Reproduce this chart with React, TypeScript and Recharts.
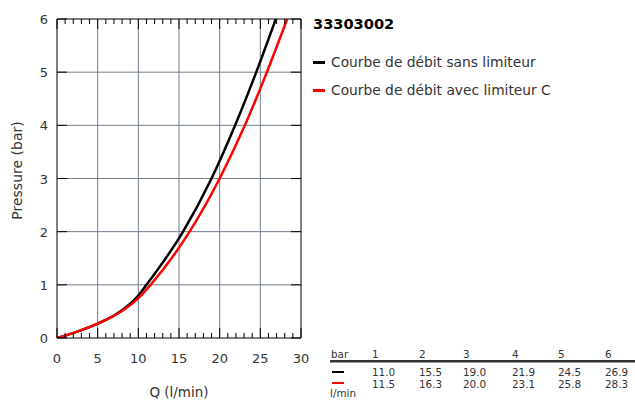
import React from 'react';
import { LineChart, Line, XAxis, YAxis, CartesianGrid } from 'recharts';

// courbes
const blackQ = [0, 2.5, 5, 7.5, 10, 11.0, 15.5, 19.0, 21.9, 24.5, 26.9];
const blackP = [0, 0.12, 0.27, 0.47, 0.8, 1, 2, 3, 4, 5, 6];
const redQ = [0, 2.5, 5, 7.5, 10, 11.5, 16.3, 20.0, 23.1, 25.8, 28.3];
const redP = [0, 0.12, 0.27, 0.46, 0.75, 1, 2, 3, 4, 5, 6];

const xTicks = Array.from({ length: 31 }, (_, i) => i);
const yTicks = [0, 1, 2, 3, 4, 5, 6];
const gridX = [5, 10, 15, 20, 25];
const gridY = [1, 2, 3, 4, 5];

// tableau
const pressures = ['1', '2', '3', '4', '5', '6'];
const sansLimiteur = ['11.0', '15.5', '19.0', '21.9', '24.5', '26.9'];
const avecLimiteur = ['11.5', '16.3', '20.0', '23.1', '25.8', '28.3'];

const title = '33303002';
const legendItems = [
  { label: 'Courbe de débit sans limiteur', color: '#000000' },
  { label: 'Courbe de débit avec limiteur C', color: '#ff0000' },
];

const blackData = blackQ.map((q, i) => ({ q, p: blackP[i] }));
const redData = redQ.map((q, i) => ({ q, p: redP[i] }));

const FONT = '"DejaVu Sans", sans-serif';
const TEXT = '#333333';
const BOTTOM_MARGIN = 20;
const LEFT_MARGIN = 9;

const BottomTick = (props: any) => {
  const { x, y, payload } = props;
  const axisY = y - BOTTOM_MARGIN;
  const major = payload.value % 5 === 0;
  return (
    <g>
      <line x1={x} x2={x} y1={axisY} y2={axisY - (major ? 10 : 5)} stroke="#000" strokeWidth={1} />
      {major && (
        <text x={x} y={axisY + 25} textAnchor="middle" fontSize={13} fill={TEXT} fontFamily={FONT}>
          {payload.value}
        </text>
      )}
    </g>
  );
};

const TopTick = (props: any) => {
  const { x, y, payload } = props;
  const major = payload.value % 5 === 0;
  return <line x1={x} x2={x} y1={y} y2={y + (major ? 10 : 5)} stroke="#000" strokeWidth={1} />;
};

const LeftTick = (props: any) => {
  const { x, y, payload } = props;
  const axisX = x + LEFT_MARGIN;
  return (
    <g>
      <line x1={axisX} x2={axisX + 10} y1={y} y2={y} stroke="#000" strokeWidth={1} />
      <text x={x} y={y + 5} textAnchor="end" fontSize={13} fill={TEXT} fontFamily={FONT}>
        {payload.value}
      </text>
    </g>
  );
};

const RightTick = (props: any) => {
  const { x, y } = props;
  return <line x1={x} x2={x - 10} y1={y} y2={y} stroke="#000" strokeWidth={1} />;
};

const cols = [372, 419, 463, 512, 558, 605];
const cell = { position: 'absolute' as const, fontSize: 10.4, color: TEXT, lineHeight: '12px', whiteSpace: 'nowrap' as const };

export default function App() {
  return (
    <div style={{ position: 'absolute', left: 0, top: 0, width: 635, height: 405, background: '#fff', fontFamily: FONT }}>
      <LineChart width={635} height={405} margin={{ top: 18, right: 333, bottom: 0, left: 0 }}>
        <CartesianGrid
          xAxisId="b"
          yAxisId="l"
          stroke="#737d8f"
          strokeWidth={1}
          verticalValues={gridX}
          horizontalValues={gridY}
        />
        <XAxis
          xAxisId="b"
          dataKey="q"
          type="number"
          domain={[0, 30]}
          ticks={xTicks}
          interval={0}
          allowDataOverflow
          height={67}
          tickSize={0}
          tickMargin={BOTTOM_MARGIN}
          tickLine={false}
          axisLine={{ stroke: '#000' }}
          tick={<BottomTick />}
          label={{ value: 'Q (l/min)', position: 'insideBottom', offset: 8, fontSize: 13.5, fill: TEXT, fontFamily: FONT }}
        />
        <XAxis
          xAxisId="t"
          dataKey="q"
          type="number"
          orientation="top"
          domain={[0, 30]}
          ticks={xTicks}
          interval={0}
          allowDataOverflow
          height={1}
          tickSize={0}
          tickMargin={0}
          tickLine={false}
          axisLine={{ stroke: '#000' }}
          tick={<TopTick />}
        />
        <YAxis
          yAxisId="l"
          type="number"
          domain={[0, 6]}
          ticks={yTicks}
          interval={0}
          allowDataOverflow
          width={57}
          tickSize={0}
          tickMargin={LEFT_MARGIN}
          tickLine={false}
          axisLine={{ stroke: '#000' }}
          tick={<LeftTick />}
          label={{ value: 'Pressure (bar)', angle: -90, position: 'insideLeft', offset: 17, dy: -8, fontSize: 14, fill: TEXT, fontFamily: FONT, style: { textAnchor: 'middle' } }}
        />
        <YAxis
          yAxisId="r"
          orientation="right"
          type="number"
          domain={[0, 6]}
          ticks={yTicks}
          interval={0}
          allowDataOverflow
          width={1}
          tickSize={0}
          tickMargin={0}
          tickLine={false}
          axisLine={{ stroke: '#000' }}
          tick={<RightTick />}
        />
        <Line
          xAxisId="b"
          yAxisId="l"
          data={blackData}
          dataKey="p"
          type="monotone"
          stroke="#000000"
          strokeWidth={2.5}
          dot={false}
          isAnimationActive={false}
        />
        <Line
          xAxisId="t"
          yAxisId="r"
          data={redData}
          dataKey="p"
          type="monotone"
          stroke="#ff0000"
          strokeWidth={2.5}
          dot={false}
          isAnimationActive={false}
        />
      </LineChart>

      <div style={{ position: 'absolute', left: 313, top: 14, fontSize: 14.6, fontWeight: 'bold', color: '#000', lineHeight: '20px' }}>
        {title}
      </div>
      {legendItems.map((it, i) => (
        <div key={it.label} style={{ position: 'absolute', left: 313, top: 53 + i * 28, height: 18, display: 'flex', alignItems: 'center' }}>
          <span style={{ display: 'inline-block', width: 12, height: 3, background: it.color, marginRight: 6 }} />
          <span style={{ fontSize: 13.8, color: TEXT, whiteSpace: 'nowrap' }}>{it.label}</span>
        </div>
      ))}

      {/* tableau débit / pression */}
      <div style={{ ...cell, left: 331, top: 348 }}>bar</div>
      {pressures.map((p, i) => (
        <div key={'h' + p} style={{ ...cell, left: cols[i], top: 348 }}>{p}</div>
      ))}
      <div style={{ position: 'absolute', left: 330, top: 360, width: 305, height: 2, background: '#333' }} />
      <div style={{ position: 'absolute', left: 330, top: 362, width: 305, height: 1, background: '#999' }} />
      <div style={{ position: 'absolute', left: 332, top: 371, width: 12, height: 2, background: '#000' }} />
      <div style={{ position: 'absolute', left: 332, top: 382, width: 12, height: 2, background: '#ff0000' }} />
      {sansLimiteur.map((v, i) => (
        <div key={'s' + i} style={{ ...cell, left: cols[i], top: 365.5 }}>{v}</div>
      ))}
      {avecLimiteur.map((v, i) => (
        <div key={'a' + i} style={{ ...cell, left: cols[i], top: 377.5 }}>{v}</div>
      ))}
      <div style={{ ...cell, left: 330, top: 387 }}>l/min</div>
    </div>
  );
}
